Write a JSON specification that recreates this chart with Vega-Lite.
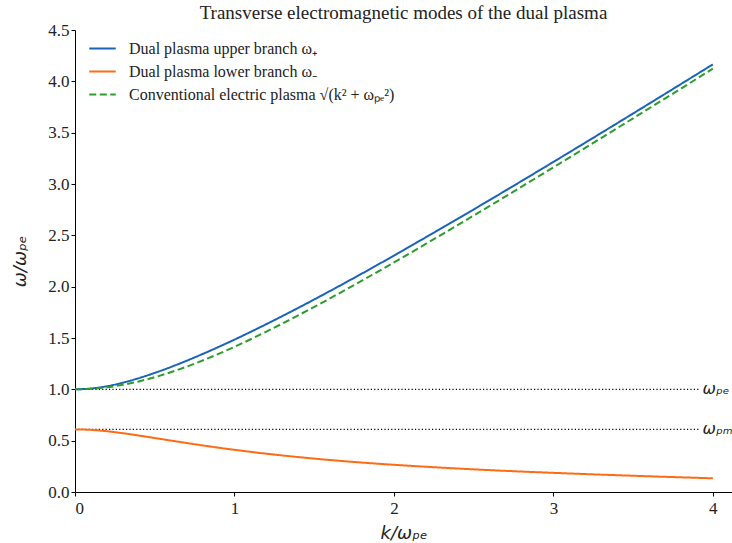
{
  "$schema": "https://vega.github.io/schema/vega-lite/v6.json",
  "width": 657,
  "height": 462,
  "autosize": {"type": "none"},
  "padding": {"left": 75, "top": 30, "right": 0, "bottom": 51},
  "background": "white",
  "config": {
    "view": {"stroke": null},
    "axis": {
      "grid": false,
      "domainColor": "black",
      "tickColor": "black",
      "tickSize": 4,
      "labelFont": "Liberation Serif",
      "labelFontSize": 16,
      "labelColor": "#222",
      "titleColor": "#222",
      "titleFont": "DejaVu Sans",
      "titleFontStyle": "italic",
      "titleFontWeight": "normal",
      "titleFontSize": 18
    }
  },
  "title": {
    "text": "Transverse electromagnetic modes of the dual plasma",
    "font": "Liberation Serif",
    "fontSize": 19,
    "fontWeight": "normal",
    "color": "#222",
    "anchor": "middle",
    "frame": "group",
    "baseline": "alphabetic",
    "offset": -17
  },
  "datasets": {
    "curves": [
      {"k": 0.0, "omega": 1.0, "series": "upper"},
      {"k": 0.1, "omega": 1.0079, "series": "upper"},
      {"k": 0.2, "omega": 1.0303, "series": "upper"},
      {"k": 0.3, "omega": 1.0649, "series": "upper"},
      {"k": 0.4, "omega": 1.1088, "series": "upper"},
      {"k": 0.5, "omega": 1.16, "series": "upper"},
      {"k": 0.6, "omega": 1.2169, "series": "upper"},
      {"k": 0.7, "omega": 1.2785, "series": "upper"},
      {"k": 0.8, "omega": 1.3439, "series": "upper"},
      {"k": 0.9, "omega": 1.4127, "series": "upper"},
      {"k": 1.0, "omega": 1.4843, "series": "upper"},
      {"k": 1.25, "omega": 1.6739, "series": "upper"},
      {"k": 1.5, "omega": 1.8752, "series": "upper"},
      {"k": 1.75, "omega": 2.0854, "series": "upper"},
      {"k": 2.0, "omega": 2.3026, "series": "upper"},
      {"k": 2.25, "omega": 2.5251, "series": "upper"},
      {"k": 2.5, "omega": 2.7519, "series": "upper"},
      {"k": 2.75, "omega": 2.9821, "series": "upper"},
      {"k": 3.0, "omega": 3.215, "series": "upper"},
      {"k": 3.25, "omega": 3.4501, "series": "upper"},
      {"k": 3.5, "omega": 3.6871, "series": "upper"},
      {"k": 3.75, "omega": 3.9256, "series": "upper"},
      {"k": 4.0, "omega": 4.1654, "series": "upper"},
      {"k": 0.0, "omega": 0.61, "series": "lower"},
      {"k": 0.1, "omega": 0.6052, "series": "lower"},
      {"k": 0.2, "omega": 0.592, "series": "lower"},
      {"k": 0.3, "omega": 0.5728, "series": "lower"},
      {"k": 0.4, "omega": 0.5502, "series": "lower"},
      {"k": 0.5, "omega": 0.5259, "series": "lower"},
      {"k": 0.6, "omega": 0.5013, "series": "lower"},
      {"k": 0.7, "omega": 0.4771, "series": "lower"},
      {"k": 0.8, "omega": 0.4539, "series": "lower"},
      {"k": 0.9, "omega": 0.4318, "series": "lower"},
      {"k": 1.0, "omega": 0.411, "series": "lower"},
      {"k": 1.25, "omega": 0.3644, "series": "lower"},
      {"k": 1.5, "omega": 0.3253, "series": "lower"},
      {"k": 1.75, "omega": 0.2925, "series": "lower"},
      {"k": 2.0, "omega": 0.2649, "series": "lower"},
      {"k": 2.25, "omega": 0.2416, "series": "lower"},
      {"k": 2.5, "omega": 0.2207, "series": "lower"},
      {"k": 2.75, "omega": 0.2026, "series": "lower"},
      {"k": 3.0, "omega": 0.1867, "series": "lower"},
      {"k": 3.25, "omega": 0.1718, "series": "lower"},
      {"k": 3.5, "omega": 0.1584, "series": "lower"},
      {"k": 3.75, "omega": 0.1454, "series": "lower"},
      {"k": 4.0, "omega": 0.1335, "series": "lower"},
      {"k": 0.0, "omega": 1.0, "series": "conv"},
      {"k": 0.1, "omega": 1.005, "series": "conv"},
      {"k": 0.2, "omega": 1.0198, "series": "conv"},
      {"k": 0.3, "omega": 1.044, "series": "conv"},
      {"k": 0.4, "omega": 1.077, "series": "conv"},
      {"k": 0.5, "omega": 1.118, "series": "conv"},
      {"k": 0.6, "omega": 1.1662, "series": "conv"},
      {"k": 0.7, "omega": 1.2207, "series": "conv"},
      {"k": 0.8, "omega": 1.2806, "series": "conv"},
      {"k": 0.9, "omega": 1.3454, "series": "conv"},
      {"k": 1.0, "omega": 1.4142, "series": "conv"},
      {"k": 1.25, "omega": 1.6008, "series": "conv"},
      {"k": 1.5, "omega": 1.8028, "series": "conv"},
      {"k": 1.75, "omega": 2.0156, "series": "conv"},
      {"k": 2.0, "omega": 2.2361, "series": "conv"},
      {"k": 2.25, "omega": 2.4622, "series": "conv"},
      {"k": 2.5, "omega": 2.6926, "series": "conv"},
      {"k": 2.75, "omega": 2.9262, "series": "conv"},
      {"k": 3.0, "omega": 3.1623, "series": "conv"},
      {"k": 3.25, "omega": 3.4004, "series": "conv"},
      {"k": 3.5, "omega": 3.6401, "series": "conv"},
      {"k": 3.75, "omega": 3.881, "series": "conv"},
      {"k": 4.0, "omega": 4.1231, "series": "conv"}
    ],
    "levels": [
      {"level": 1.0, "label": "ωₚₑ"},
      {"level": 0.61, "label": "ωₚₘ"}
    ]
  },
  "layer": [
    {
      "data": {"name": "levels"},
      "mark": {"type": "rule", "color": "black", "strokeWidth": 1.2, "strokeDash": [1.2, 2.2]},
      "encoding": {
        "x": {"datum": 0, "type": "quantitative", "scale": {"domain": [0, 4.12], "nice": false, "zero": false}},
        "x2": {"datum": 3.91},
        "y": {"field": "level", "type": "quantitative"}
      }
    },
    {
      "data": {"name": "levels"},
      "mark": {"type": "text", "align": "left", "baseline": "middle", "dx": 4, "font": "DejaVu Sans", "fontStyle": "italic", "fontSize": 16, "color": "#222"},
      "encoding": {
        "x": {"datum": 3.91, "type": "quantitative"},
        "y": {"field": "level", "type": "quantitative"},
        "text": {"field": "label"}
      }
    },
    {
      "data": {"name": "curves"},
      "mark": {"type": "line", "strokeWidth": 2, "interpolate": "monotone"},
      "encoding": {
        "x": {
          "field": "k", "type": "quantitative",
          "scale": {"domain": [0, 4.12], "nice": false, "zero": false},
          "axis": {"values": [0, 1, 2, 3, 4], "format": "d", "title": "k/ωₚₑ", "titlePadding": 8, "labelFont": "Liberation Serif", "labelFontSize": 17, "labelPadding": 4}
        },
        "y": {
          "field": "omega", "type": "quantitative",
          "scale": {"domain": [0, 4.5], "nice": false},
          "axis": {"values": [0, 0.5, 1, 1.5, 2, 2.5, 3, 3.5, 4, 4.5], "format": ".1f", "title": "ω/ωₚₑ", "titlePadding": 18, "labelFont": "Liberation Serif", "labelFontSize": 17}
        },
        "color": {
          "field": "series", "type": "nominal",
          "scale": {"domain": ["upper", "lower", "conv"], "range": ["#1a64b8", "#ff6a14", "#2a9e2a"]},
          "legend": {
            "title": null,
            "orient": "none",
            "legendX": 13,
            "legendY": 4,
            "symbolType": "stroke",
            "symbolSize": 700,
            "symbolStrokeWidth": 2.2,
            "labelFont": "Liberation Serif",
            "labelFontSize": 16,
            "labelLimit": 500,
            "labelColor": "#222",
            "labelOffset": 12,
            "rowPadding": 0,
            "labelExpr": "datum.value == 'upper' ? 'Dual plasma upper branch ω₊' : datum.value == 'lower' ? 'Dual plasma lower branch ω₋' : 'Conventional electric plasma √(k² + ωₚₑ²)'"
          }
        },
        "strokeDash": {
          "field": "series", "type": "nominal",
          "scale": {"domain": ["upper", "lower", "conv"], "range": [[1, 0], [1, 0], [7, 3.5]]},
          "legend": null
        }
      }
    },
    {
      "mark": {"type": "rule", "color": "black", "strokeWidth": 1},
      "encoding": {
        "y": {"datum": 4.5, "type": "quantitative"}
      }
    }
  ]
}
